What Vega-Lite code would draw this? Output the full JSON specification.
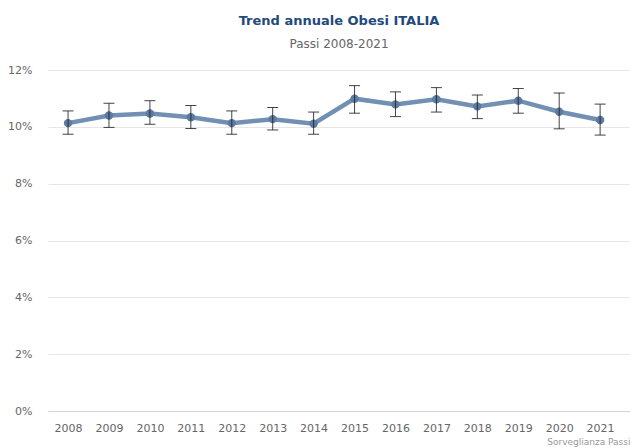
{
  "$schema": "https://vega.github.io/schema/vega-lite/v6.json",
  "width": 582,
  "height": 341,
  "autosize": {"type": "none"},
  "padding": {"left": 48, "top": 70, "right": 0, "bottom": 37},
  "background": "white",
  "config": {"view": {"stroke": null}, "font": "DejaVu Sans"},
  "title": {
    "text": "Trend annuale Obesi ITALIA",
    "subtitle": "Passi 2008-2021",
    "anchor": "middle",
    "fontSize": 13,
    "font": "DejaVu Sans",
    "fontWeight": "bold",
    "color": "#1f4a7c",
    "subtitleFontSize": 12,
    "subtitleFont": "DejaVu Sans",
    "subtitleColor": "#666666",
    "subtitlePadding": 11,
    "offset": 14
  },
  "data": {
    "values": [
      {"anno": 2008, "valore": 10.13, "inf": 9.74, "sup": 10.56},
      {"anno": 2009, "valore": 10.40, "inf": 9.98, "sup": 10.83},
      {"anno": 2010, "valore": 10.47, "inf": 10.09, "sup": 10.92},
      {"anno": 2011, "valore": 10.34, "inf": 9.94, "sup": 10.75},
      {"anno": 2012, "valore": 10.13, "inf": 9.74, "sup": 10.56},
      {"anno": 2013, "valore": 10.27, "inf": 9.89, "sup": 10.68},
      {"anno": 2014, "valore": 10.11, "inf": 9.74, "sup": 10.52},
      {"anno": 2015, "valore": 10.99, "inf": 10.48, "sup": 11.45},
      {"anno": 2016, "valore": 10.79, "inf": 10.36, "sup": 11.23},
      {"anno": 2017, "valore": 10.97, "inf": 10.52, "sup": 11.38},
      {"anno": 2018, "valore": 10.72, "inf": 10.29, "sup": 11.12},
      {"anno": 2019, "valore": 10.92, "inf": 10.48, "sup": 11.35},
      {"anno": 2020, "valore": 10.53, "inf": 9.93, "sup": 11.19},
      {"anno": 2021, "valore": 10.24, "inf": 9.71, "sup": 10.80}
    ]
  },
  "encoding": {
    "x": {
      "field": "anno",
      "type": "quantitative",
      "scale": {"domain": [2007.51, 2021.73], "nice": false, "zero": false},
      "axis": {
        "values": [2008, 2009, 2010, 2011, 2012, 2013, 2014, 2015, 2016, 2017, 2018, 2019, 2020, 2021],
        "format": "d",
        "grid": false,
        "ticks": false,
        "domainColor": "#ccd6eb",
        "domainWidth": 1,
        "labelFontSize": 11,
        "labelColor": "#666666",
        "labelPadding": 11,
        "labelFlush": false,
        "title": "Sorveglianza Passi",
        "titleAnchor": "end",
        "titleAlign": "right",
        "titleFontSize": 9,
        "titleFontWeight": "normal",
        "titleColor": "#999999",
        "titlePadding": 4
      }
    }
  },
  "layer": [
    {
      "mark": {"type": "line", "color": "#7190b3", "strokeWidth": 4.5},
      "encoding": {
        "y": {
          "field": "valore",
          "type": "quantitative",
          "scale": {"domain": [0, 12], "nice": false},
          "axis": {
            "values": [0, 2, 4, 6, 8, 10, 12],
            "labelExpr": "datum.value + '%'",
            "title": null,
            "domain": false,
            "ticks": false,
            "gridColor": "#e6e6e6",
            "labelFontSize": 11,
            "labelColor": "#666666",
            "labelPadding": 16
          }
        }
      }
    },
    {
      "mark": {"type": "point", "filled": true, "color": "#5d7aa0", "size": 70, "opacity": 1},
      "encoding": {"y": {"field": "valore", "type": "quantitative"}}
    },
    {
      "mark": {"type": "rule", "color": "#222222", "strokeWidth": 1, "opacity": 0.85},
      "encoding": {
        "y": {"field": "inf", "type": "quantitative"},
        "y2": {"field": "sup"}
      }
    },
    {
      "mark": {"type": "tick", "orient": "horizontal", "color": "#222222", "thickness": 1, "size": 11, "opacity": 0.85},
      "encoding": {"y": {"field": "inf", "type": "quantitative"}}
    },
    {
      "mark": {"type": "tick", "orient": "horizontal", "color": "#222222", "thickness": 1, "size": 11, "opacity": 0.85},
      "encoding": {"y": {"field": "sup", "type": "quantitative"}}
    }
  ]
}
